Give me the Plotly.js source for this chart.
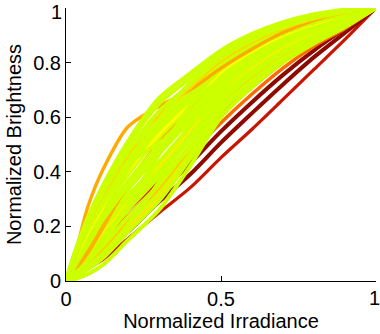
<!DOCTYPE html>
<html>
<head>
<meta charset="utf-8">
<script src="https://cdn.plot.ly/plotly-3.0.1.min.js"></script>
<style>html,body{margin:0;padding:0;background:#fff;}#chart{width:380px;height:334px;}</style>
</head>
<body>
<div id="chart"></div>
<script>
// Normalized irradiance sample positions shared by every curve
const xGrid = [0, 0.03, 0.07, 0.12, 0.2, 0.3, 0.4, 0.5, 0.6, 0.7, 0.8, 0.9, 1];

// Red / dark-red / orange response curves (lower group)
const redLow   = [0, 0.020, 0.045, 0.080, 0.155, 0.250, 0.341, 0.452, 0.556, 0.665, 0.775, 0.885, 1];
const darkRedA = [0, 0.022, 0.052, 0.095, 0.180, 0.290, 0.390, 0.507, 0.615, 0.720, 0.820, 0.910, 1];
const darkRedB = [0, 0.027, 0.065, 0.120, 0.210, 0.320, 0.430, 0.548, 0.655, 0.755, 0.845, 0.925, 1];
const orangeA  = [0, 0.035, 0.090, 0.155, 0.240, 0.350, 0.465, 0.580, 0.685, 0.780, 0.860, 0.925, 1];
const redB     = [0, 0.045, 0.110, 0.180, 0.260, 0.370, 0.490, 0.610, 0.710, 0.800, 0.875, 0.945, 1];

// Yellow-green response curves (main band)
const green01 = [0, 0.110, 0.232, 0.352, 0.512, 0.670, 0.760, 0.845, 0.905, 0.948, 0.977, 0.994, 1];
const green02 = [0, 0.106, 0.224, 0.340, 0.497, 0.650, 0.743, 0.833, 0.895, 0.941, 0.972, 0.991, 1];
const green03 = [0, 0.102, 0.213, 0.325, 0.474, 0.621, 0.719, 0.816, 0.882, 0.930, 0.964, 0.986, 1];
const green04 = [0, 0.098, 0.205, 0.308, 0.446, 0.588, 0.692, 0.796, 0.866, 0.918, 0.956, 0.981, 1];
const green05 = [0, 0.089, 0.187, 0.283, 0.416, 0.555, 0.665, 0.776, 0.850, 0.907, 0.947, 0.976, 1];
const green06 = [0, 0.081, 0.171, 0.262, 0.391, 0.527, 0.641, 0.759, 0.837, 0.896, 0.940, 0.972, 1];
const green07 = [0, 0.073, 0.156, 0.240, 0.365, 0.498, 0.617, 0.742, 0.823, 0.886, 0.932, 0.967, 1];
const green08 = [0, 0.064, 0.138, 0.215, 0.335, 0.465, 0.590, 0.723, 0.808, 0.874, 0.924, 0.962, 1];
const green09 = [0, 0.056, 0.122, 0.193, 0.309, 0.436, 0.566, 0.705, 0.794, 0.864, 0.916, 0.958, 1];
const green10 = [0, 0.048, 0.106, 0.172, 0.283, 0.408, 0.542, 0.688, 0.780, 0.853, 0.909, 0.953, 1];
const green11 = [0, 0.042, 0.093, 0.153, 0.261, 0.383, 0.522, 0.674, 0.769, 0.844, 0.902, 0.949, 1];
const green12 = [0, 0.034, 0.077, 0.131, 0.235, 0.354, 0.498, 0.656, 0.755, 0.834, 0.895, 0.945, 1];
const green13 = [0, 0.026, 0.061, 0.110, 0.209, 0.326, 0.474, 0.639, 0.741, 0.824, 0.887, 0.940, 1];
const green14 = [0, 0.017, 0.043, 0.085, 0.180, 0.293, 0.447, 0.620, 0.726, 0.812, 0.879, 0.935, 1];
const green15 = [0, 0.008, 0.025, 0.060, 0.150, 0.260, 0.420, 0.600, 0.710, 0.800, 0.870, 0.930, 1];
const green16 = [0, 0.104, 0.218, 0.318, 0.428, 0.506, 0.573, 0.686, 0.769, 0.837, 0.897, 0.946, 1];
const green17 = [0, 0.086, 0.183, 0.246, 0.317, 0.383, 0.488, 0.637, 0.733, 0.815, 0.881, 0.936, 1];
const green18 = [0, 0.030, 0.070, 0.138, 0.280, 0.465, 0.641, 0.784, 0.868, 0.926, 0.961, 0.984, 1];
const green19 = [0, 0.019, 0.048, 0.091, 0.206, 0.363, 0.556, 0.735, 0.837, 0.904, 0.945, 0.975, 1];
const green20 = [0, 0.058, 0.138, 0.246, 0.409, 0.588, 0.726, 0.825, 0.895, 0.941, 0.972, 0.991, 1];
const green21 = [0, 0.075, 0.160, 0.231, 0.317, 0.404, 0.522, 0.698, 0.808, 0.881, 0.934, 0.968, 1];
const green22 = [0, 0.093, 0.196, 0.296, 0.431, 0.572, 0.678, 0.786, 0.858, 0.913, 0.951, 0.979, 1];
const green23 = [0, 0.069, 0.147, 0.227, 0.350, 0.481, 0.604, 0.732, 0.815, 0.880, 0.928, 0.965, 1];
const green24 = [0, 0.045, 0.099, 0.162, 0.272, 0.395, 0.532, 0.681, 0.774, 0.849, 0.905, 0.951, 1];
const green25 = [0, 0.108, 0.226, 0.338, 0.478, 0.588, 0.658, 0.735, 0.817, 0.874, 0.924, 0.962, 1];

// Yellow / amber curves inside the band
const yellow1 = [0, 0.084, 0.178, 0.271, 0.402, 0.539, 0.651, 0.767, 0.843, 0.901, 0.943, 0.974, 1];
const yellow2 = [0, 0.053, 0.115, 0.184, 0.298, 0.424, 0.556, 0.698, 0.788, 0.859, 0.913, 0.956, 1];
const yellow3 = [0, 0.030, 0.070, 0.122, 0.224, 0.342, 0.488, 0.649, 0.749, 0.830, 0.891, 0.943, 1];
const yellow4 = [0, 0.100, 0.210, 0.318, 0.465, 0.609, 0.709, 0.808, 0.876, 0.926, 0.961, 0.984, 1];
const amber1  = [0, 0.042, 0.104, 0.200, 0.354, 0.506, 0.624, 0.747, 0.827, 0.889, 0.934, 0.968, 1];
const yellow5 = [0, 0.021, 0.052, 0.097, 0.194, 0.309, 0.461, 0.629, 0.733, 0.818, 0.883, 0.938, 1];

// Orange outlier curve (steep start, then joins the band)
const orangeOutlier = [0, 0.100, 0.270, 0.410, 0.565, 0.640, 0.700, 0.780, 0.850, 0.910, 0.955, 0.985, 1];

// Tick labels (the end labels "1" are placed as annotations, as in the reference)
const xTickVals = [0, 0.5, 1];
const xTickText = ['0', '0.5', ''];
const yTickVals = [0, 0.2, 0.4, 0.6, 0.8, 1];
const yTickText = ['0', '0.2', '0.4', '0.6', '0.8', ''];
const endLabel = '1';

// Styles (colour, width) in drawing order
const GREEN = '#CCFF00';
const GW = 4;
const series = [
  [redLow,   '#C81400', 3.2],
  [darkRedA, '#8E0A00', 4],
  [darkRedB, '#8E0A00', 4],
  [orangeA,  '#FF6A00', 3.4],
  [redB,     '#E81000', 3.4],
  [green15, GREEN, GW], [yellow5, '#FFE600', GW], [green14, GREEN, GW], [green13, GREEN, GW],
  [yellow3, '#FFCC00', GW], [green12, GREEN, GW], [green19, GREEN, GW], [green24, GREEN, GW],
  [green11, GREEN, GW], [green17, GREEN, GW], [green10, GREEN, GW], [yellow2, '#FFEE00', GW],
  [green09, GREEN, GW], [green08, GREEN, GW], [green21, GREEN, GW], [amber1, '#FFB000', GW],
  [green23, GREEN, GW], [green07, GREEN, GW], [green06, GREEN, GW], [yellow1, '#FFFF00', GW],
  [green05, GREEN, GW], [green18, GREEN, GW], [green22, GREEN, GW], [green04, GREEN, GW],
  [orangeOutlier, '#FFAA00', 3.4],
  [green16, GREEN, GW], [yellow4, '#FFD500', GW], [green03, GREEN, GW], [green25, GREEN, GW],
  [green20, GREEN, GW], [green02, GREEN, GW], [green01, GREEN, GW]
];

const traces = series.map(function (s) {
  return {
    x: xGrid, y: s[0], type: 'scatter', mode: 'lines',
    line: {color: s[1], width: s[2], shape: 'spline', smoothing: 0.8},
    hoverinfo: 'skip', showlegend: false
  };
});

const FONT = 'Liberation Sans, Arial, Helvetica, sans-serif';
const tickFont = {family: FONT, size: 20, color: '#000'};
const layout = {
  width: 380, height: 334,
  margin: {l: 66, r: 4, t: 8, b: 53},
  paper_bgcolor: '#fff', plot_bgcolor: '#fff',
  font: {family: FONT, size: 20, color: '#000'},
  showlegend: false,
  xaxis: {
    range: [0, 1], tickvals: xTickVals, ticktext: xTickText,
    ticks: 'inside', ticklen: 5, tickcolor: '#000', tickwidth: 1,
    showline: true, linecolor: '#000', linewidth: 1,
    showgrid: false, zeroline: false, mirror: false,
    tickfont: tickFont,
    title: {text: 'Normalized Irradiance', font: {family: FONT, size: 20, color: '#000'}, standoff: 3}
  },
  yaxis: {
    range: [0, 1], tickvals: yTickVals, ticktext: yTickText,
    ticks: 'inside', ticklen: 5, tickcolor: '#000', tickwidth: 1,
    showline: true, linecolor: '#000', linewidth: 1,
    showgrid: false, zeroline: false, mirror: false,
    tickfont: tickFont,
    title: {text: 'Normalized Brightness', font: {family: FONT, size: 20, color: '#000'}, standoff: 6}
  },
  annotations: [
    {text: endLabel, xref: 'x', x: xTickVals[2], yref: 'paper', y: 0,
     xanchor: 'center', yanchor: 'middle', xshift: -2, yshift: -17,
     showarrow: false, font: tickFont},
    {text: endLabel, xref: 'paper', x: 0, yref: 'y', y: yTickVals[5],
     xanchor: 'right', yanchor: 'middle', xshift: -2, yshift: -4,
     showarrow: false, font: tickFont}
  ]
};

Plotly.newPlot('chart', traces, layout, {staticPlot: true, displayModeBar: false});
</script>
</body>
</html>
